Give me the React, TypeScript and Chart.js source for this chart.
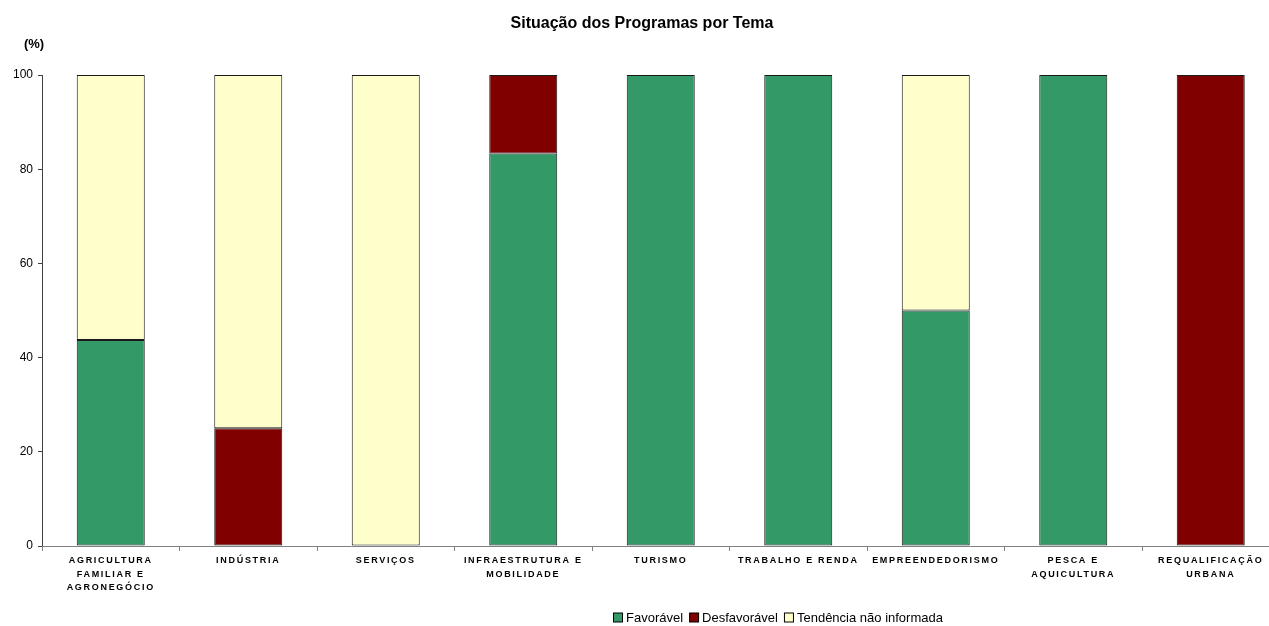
import React, { useEffect, useRef } from "react";
import { Chart, registerables } from "chart.js";

Chart.register(...registerables);

const categories: (string | string[])[] = [
  ["AGRICULTURA", "FAMILIAR E", "AGRONEGÓCIO"],
  "INDÚSTRIA",
  "SERVIÇOS",
  ["INFRAESTRUTURA E", "MOBILIDADE"],
  "TURISMO",
  "TRABALHO E RENDA",
  "EMPREENDEDORISMO",
  ["PESCA E", "AQUICULTURA"],
  ["REQUALIFICAÇÃO", "URBANA"],
];

const favoravel: (number | null)[] = [43.75, null, null, 83.33, 100, 100, 50, 100, null];
const desfavoravel: (number | null)[] = [null, 25, null, 16.67, null, null, null, null, 100];
const naoInformada: (number | null)[] = [56.25, 75, 100, null, null, null, 50, null, null];

const yTicks = [0, 20, 40, 60, 80, 100];

const seriesNames = ["Favorável", "Desfavorável", "Tendência não informada"];
const seriesColors = ["#339966", "#800000", "#FFFFCC"];

const FONT = "Arial, 'Liberation Sans', sans-serif";

const extrasPlugin = {
  id: "extras",
  afterDatasetsDraw(chart: any) {
    chart.ctx.letterSpacing = "1.7px";
  },
  afterDraw(chart: any) {
    const ctx = chart.ctx as CanvasRenderingContext2D;
    (ctx as any).letterSpacing = "0px";
    ctx.save();
    ctx.fillStyle = "#000";
    // title
    ctx.font = `bold 16px ${FONT}`;
    ctx.textAlign = "center";
    ctx.textBaseline = "middle";
    ctx.fillText("Situação dos Programas por Tema", 642, 24);
    // (%)
    ctx.font = `bold 13px ${FONT}`;
    ctx.fillText("(%)", 34, 44);
    // legend
    ctx.font = `13px ${FONT}`;
    ctx.textAlign = "left";
    const box = 9;
    const gap = 4;
    const itemGap = 6;
    const widths = chart.data.datasets.map((d: any) => box + gap + ctx.measureText(d.label).width);
    const total = widths.reduce((a: number, b: number) => a + b, 0) + itemGap * (widths.length - 1);
    let x = Math.round(778 - total / 2);
    const y = 617;
    chart.data.datasets.forEach((d: any, i: number) => {
      ctx.fillStyle = d.backgroundColor;
      ctx.fillRect(x + 0.5, y - box / 2 + 0.5, box, box);
      ctx.strokeStyle = "#000";
      ctx.lineWidth = 1;
      ctx.strokeRect(x + 0.5, y - box / 2 + 0.5, box, box);
      ctx.fillStyle = "#000";
      ctx.fillText(d.label, x + box + gap, y + 1);
      x += widths[i] + itemGap;
    });
    ctx.restore();
  },
};

export default function App() {
  const ref = useRef<HTMLCanvasElement | null>(null);
  useEffect(() => {
    if (!ref.current) return;
    const series = [favoravel, desfavoravel, naoInformada];
    const chart = new Chart(ref.current, {
      type: "bar",
      data: {
        labels: categories as any,
        datasets: series.map((data, i) => ({
          label: seriesNames[i],
          data,
          backgroundColor: seriesColors[i],
          borderColor: "#1a1a1a",
          borderWidth: 1,
          borderSkipped: false,
          categoryPercentage: 1,
          barPercentage: 68 / 137.5,
        })),
      },
      options: {
        responsive: false,
        animation: false,
        devicePixelRatio: 1,
        layout: { padding: { top: 75, left: 0, right: 10.5, bottom: 30 } },
        plugins: {
          legend: { display: false },
          title: { display: false },
          tooltip: { enabled: false },
        },
        scales: {
          x: {
            stacked: true,
            afterFit(scale: any) {
              scale.height = 50;
            },
            border: { color: "#808080", width: 1, z: 1 },
            grid: { drawOnChartArea: false, drawTicks: true, tickLength: 5, color: "#808080", offset: true },
            ticks: {
              z: 1,
              color: "#000",
              font: { family: FONT, size: 9, weight: "bold", lineHeight: 1.5 },
              maxRotation: 0,
              autoSkip: false,
              padding: 3,
            },
          },
          y: {
            stacked: true,
            min: 0,
            max: 100,
            afterFit(scale: any) {
              scale.width = 42;
            },
            afterBuildTicks(scale: any) {
              scale.ticks = yTicks.map((v) => ({ value: v }));
            },
            border: { color: "#404040", width: 1 },
            grid: { drawOnChartArea: false, drawTicks: true, tickLength: 4, color: "#404040" },
            ticks: {
              color: "#000",
              font: { family: FONT, size: 12 },
              padding: 5,
            },
          },
        },
      },
      plugins: [extrasPlugin],
    });
    return () => chart.destroy();
  }, []);
  return (
    <div style={{ position: "absolute", left: 0, top: 0, width: 1269, height: 626, overflow: "hidden", background: "#fff" }}>
      <canvas ref={ref} width={1290} height={626} style={{ display: "block" }} />
    </div>
  );
}
